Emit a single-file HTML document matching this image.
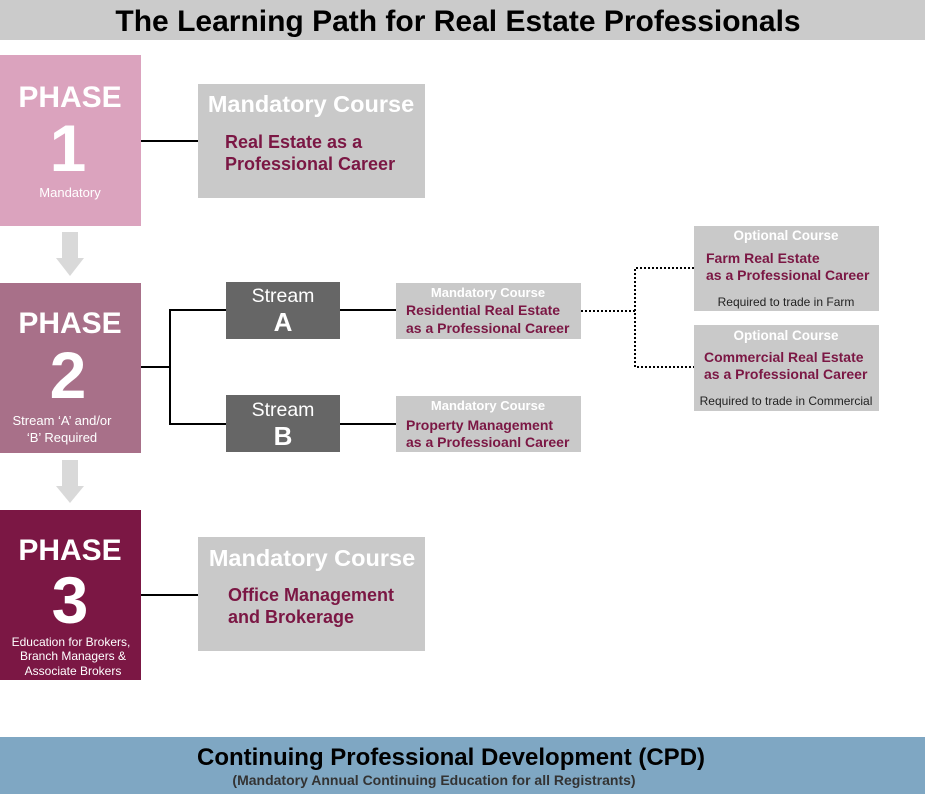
<!DOCTYPE html>
<html><head><meta charset="utf-8"><style>
html,body{margin:0;padding:0;background:#fff}
svg{display:block}
text{font-family:"Liberation Sans",Arial,sans-serif}
</style></head><body>
<svg width="925" height="800" viewBox="0 0 925 800" xmlns="http://www.w3.org/2000/svg">
<rect x="0" y="0" width="925" height="40" fill="#cbcbcb"/>
<text x="458" y="31" font-size="30" font-weight="bold" text-anchor="middle" fill="#000">The Learning Path for Real Estate Professionals</text>

<g fill="#d9d9d9">
<polygon points="62,232 78,232 78,258 84,258 70,276 56,258 62,258"/>
<polygon points="62,460 78,460 78,486 84,486 70,503 56,486 62,486"/>
</g>

<g stroke="#000" stroke-width="2" fill="none">
<line x1="141" y1="141" x2="198" y2="141"/>
<polyline points="141,367 170,367"/>
<polyline points="226,310 170,310 170,424 226,424"/>
<line x1="340" y1="310" x2="396" y2="310"/>
<line x1="340" y1="424" x2="396" y2="424"/>
<line x1="141" y1="595" x2="198" y2="595"/>
</g>
<g stroke="#000" stroke-width="2" fill="none" stroke-dasharray="2,2">
<line x1="581" y1="311" x2="635" y2="311"/>
<polyline points="694,268 635,268 635,367 694,367"/>
</g>

<rect x="0" y="55" width="141" height="171" fill="#dba3be"/>
<text x="70" y="107" font-size="30" font-weight="bold" fill="#fff" text-anchor="middle">PHASE</text>
<text x="68" y="171" font-size="66" font-weight="bold" fill="#fff" text-anchor="middle">1</text>
<text x="70" y="197" font-size="13" fill="#fff" text-anchor="middle">Mandatory</text>

<rect x="0" y="283" width="141" height="170" fill="#a87089"/>
<text x="70" y="333" font-size="30" font-weight="bold" fill="#fff" text-anchor="middle">PHASE</text>
<text x="68" y="398" font-size="66" font-weight="bold" fill="#fff" text-anchor="middle">2</text>
<text x="62" y="425" font-size="13" fill="#fff" text-anchor="middle">Stream ‘A’ and/or</text>
<text x="62" y="442" font-size="13" fill="#fff" text-anchor="middle">‘B’ Required</text>

<rect x="0" y="510" width="141" height="170" fill="#7b1744"/>
<text x="70" y="560" font-size="30" font-weight="bold" fill="#fff" text-anchor="middle">PHASE</text>
<text x="70" y="623" font-size="66" font-weight="bold" fill="#fff" text-anchor="middle">3</text>
<text x="71" y="646" font-size="12" fill="#fff" text-anchor="middle">Education for Brokers,</text>
<text x="73" y="660" font-size="12" fill="#fff" text-anchor="middle">Branch Managers &amp;</text>
<text x="73" y="675" font-size="12" fill="#fff" text-anchor="middle">Associate Brokers</text>

<rect x="198" y="84" width="227" height="114" fill="#c9c9c9"/>
<text x="311" y="112" font-size="23.5" font-weight="bold" fill="#fff" text-anchor="middle">Mandatory Course</text>
<text x="225" y="148" font-size="18" font-weight="bold" fill="#7b1744">Real Estate as a</text>
<text x="225" y="170" font-size="18" font-weight="bold" fill="#7b1744">Professional Career</text>

<rect x="198" y="537" width="227" height="114" fill="#c9c9c9"/>
<text x="312" y="566" font-size="23.5" font-weight="bold" fill="#fff" text-anchor="middle">Mandatory Course</text>
<text x="228" y="601" font-size="18" font-weight="bold" fill="#7b1744">Office Management</text>
<text x="228" y="623" font-size="18" font-weight="bold" fill="#7b1744">and Brokerage</text>

<rect x="226" y="282" width="114" height="57" fill="#666"/>
<text x="283" y="302" font-size="19.5" fill="#fff" text-anchor="middle">Stream</text>
<text x="283" y="331" font-size="26" font-weight="bold" fill="#fff" text-anchor="middle">A</text>
<rect x="226" y="395" width="114" height="57" fill="#666"/>
<text x="283" y="416" font-size="19.5" fill="#fff" text-anchor="middle">Stream</text>
<text x="283" y="445" font-size="26" font-weight="bold" fill="#fff" text-anchor="middle">B</text>

<rect x="396" y="283" width="185" height="56" fill="#c9c9c9"/>
<text x="488" y="297" font-size="13" font-weight="bold" fill="#fff" text-anchor="middle">Mandatory Course</text>
<text x="406" y="315" font-size="14" font-weight="bold" fill="#7b1744">Residential Real Estate</text>
<text x="406" y="333" font-size="14" font-weight="bold" fill="#7b1744">as a Professional Career</text>

<rect x="396" y="396" width="185" height="56" fill="#c9c9c9"/>
<text x="488" y="410" font-size="13" font-weight="bold" fill="#fff" text-anchor="middle">Mandatory Course</text>
<text x="406" y="430" font-size="14" font-weight="bold" fill="#7b1744">Property Management</text>
<text x="406" y="447" font-size="14" font-weight="bold" fill="#7b1744">as a Professioanl Career</text>

<rect x="694" y="226" width="185" height="85" fill="#c9c9c9"/>
<text x="786" y="240" font-size="13.5" font-weight="bold" fill="#fff" text-anchor="middle">Optional Course</text>
<text x="706" y="263" font-size="14" font-weight="bold" fill="#7b1744">Farm Real Estate</text>
<text x="706" y="280" font-size="14" font-weight="bold" fill="#7b1744">as a Professional Career</text>
<text x="786" y="306" font-size="12" fill="#222" text-anchor="middle">Required to trade in Farm</text>

<rect x="694" y="325" width="185" height="86" fill="#c9c9c9"/>
<text x="786" y="340" font-size="13.5" font-weight="bold" fill="#fff" text-anchor="middle">Optional Course</text>
<text x="704" y="362" font-size="14" font-weight="bold" fill="#7b1744">Commercial Real Estate</text>
<text x="704" y="379" font-size="14" font-weight="bold" fill="#7b1744">as a Professional Career</text>
<text x="786" y="405" font-size="12" fill="#222" text-anchor="middle">Required to trade in Commercial</text>

<rect x="0" y="737" width="925" height="57" fill="#7fa7c3"/>
<text x="451" y="765" font-size="24" font-weight="bold" fill="#000" text-anchor="middle">Continuing Professional Development (CPD)</text>
<text x="434" y="785" font-size="14" font-weight="bold" fill="#333" text-anchor="middle">(Mandatory Annual Continuing Education for all Registrants)</text>
</svg>
</body></html>
